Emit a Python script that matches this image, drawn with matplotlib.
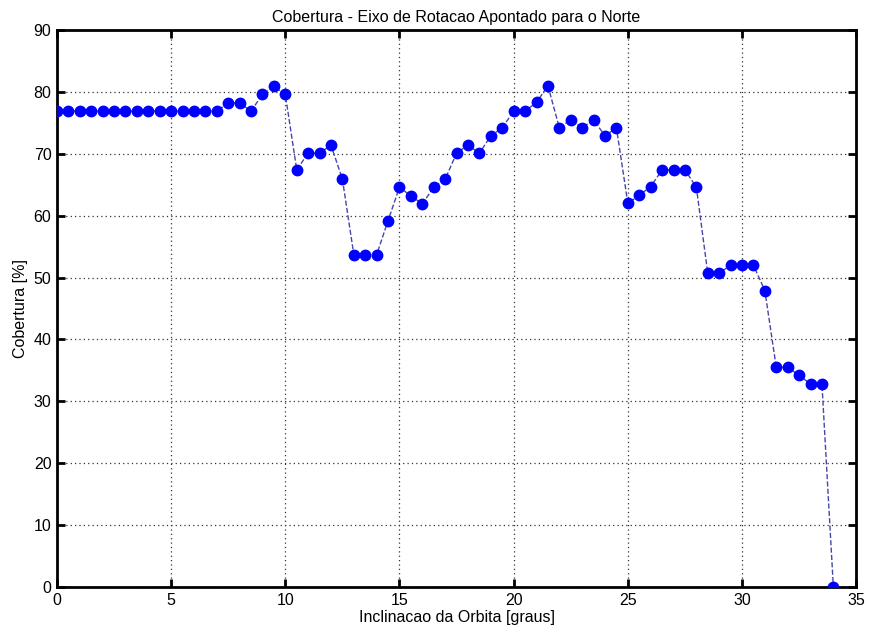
import matplotlib.pyplot as plt
import numpy as np

plt.rcParams['font.family'] = ['Liberation Sans', 'DejaVu Sans']

# inclinacao da orbita (graus), passo de 0.5
inclinacao = np.arange(0, 34.01, 0.5)

cobertura = [76.9, 76.9, 76.9, 76.9, 76.9, 76.9, 76.9, 76.9, 76.9, 76.9,
             76.9, 76.9, 76.9, 76.9, 76.9, 78.2, 78.2, 76.9, 79.6, 80.9,
             79.6, 67.4, 70.1, 70.1, 71.4, 65.9, 53.7, 53.7, 53.7, 59.2,
             64.6, 63.2, 61.9, 64.6, 65.9, 70.1, 71.4, 70.1, 72.9, 74.2,
             76.9, 76.9, 78.3, 81.0, 74.2, 75.5, 74.2, 75.5, 72.9, 74.2,
             62.0, 63.3, 64.7, 67.4, 67.4, 67.4, 64.6, 50.7, 50.7, 52.0,
             52.0, 52.0, 47.9, 35.5, 35.5, 34.2, 32.8, 32.8, 0.0]

fig = plt.figure(figsize=(8.71, 6.32), dpi=100)
ax = fig.add_axes([0.0654, 0.0712, 0.9176, 0.8813])

ax.plot(inclinacao, cobertura, linestyle='--', color='#4646a8', linewidth=1.0,
        marker='o', markersize=7.5, markerfacecolor='#0000ff',
        markeredgecolor='#0000ff', zorder=3)

ax.set_xlim(0, 35)
ax.set_ylim(0, 90)
ax.set_xticks(np.arange(0, 36, 5))
ax.set_yticks(np.arange(0, 91, 10))

ax.grid(True, linestyle=(0, (1, 2.5)), color='#333333', linewidth=0.9)
for s in ax.spines.values():
    s.set_linewidth(2.0)
ax.tick_params(direction='in', top=True, right=True, length=6, width=2,
               labelsize=11.5, pad=4)

ax.set_title('Cobertura - Eixo de Rotacao Apontado para o Norte', fontsize=11.5)
ax.set_xlabel('Inclinacao da Orbita [graus]', fontsize=11.5, labelpad=2)
ax.set_ylabel('Cobertura [%]', fontsize=11.5, labelpad=4)

plt.savefig('out.png')
